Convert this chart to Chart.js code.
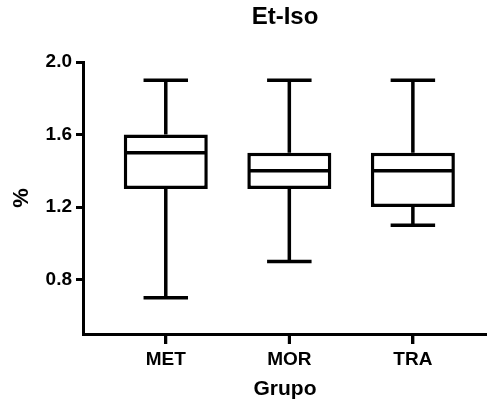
<!DOCTYPE html>
<html>
<head>
<meta charset="utf-8">
<script src="https://cdn.jsdelivr.net/npm/chart.js@4.4.1/dist/chart.umd.min.js"></script>
<style>
  html, body { margin: 0; padding: 0; background: #fff; }
  #wrap { width: 487px; height: 406px; }
</style>
</head>
<body>
<div id="wrap"><canvas id="boxChart"></canvas></div>
<script>
// Box plot values
const groups = ['MET', 'MOR', 'TRA'];
const whiskerMin = [0.7, 0.9, 1.1];
const q1 = [1.3, 1.3, 1.2];
const median = [1.5, 1.4, 1.4];
const q3 = [1.6, 1.5, 1.5];
const whiskerMax = [1.9, 1.9, 1.9];
const yTicks = [0.8, 1.2, 1.6, 2.0];

const FONT = "'Liberation Sans', Arial, Helvetica, sans-serif";
const LINE = 3.5;

// whiskers + median lines, drawn with the chart's own scales
const boxWhiskers = {
  id: 'boxWhiskers',
  afterDatasetsDraw(chart) {
    const { ctx, scales: { x, y } } = chart;
    const bars = chart.getDatasetMeta(0).data;
    ctx.save();
    ctx.strokeStyle = '#000';
    ctx.lineWidth = LINE;
    groups.forEach((g, i) => {
      const cx = x.getPixelForValue(i + 1);
      const capHalf = x.getPixelForValue(i + 1 + 0.18) - cx;
      const half = bars[i].width / 2;

      ctx.beginPath();
      // median
      ctx.moveTo(cx - half + 2, y.getPixelForValue(median[i]));
      ctx.lineTo(cx + half - 2, y.getPixelForValue(median[i]));
      // upper whisker
      ctx.moveTo(cx, y.getPixelForValue(q3[i]));
      ctx.lineTo(cx, y.getPixelForValue(whiskerMax[i]));
      ctx.moveTo(cx - capHalf, y.getPixelForValue(whiskerMax[i]));
      ctx.lineTo(cx + capHalf, y.getPixelForValue(whiskerMax[i]));
      // lower whisker
      ctx.moveTo(cx, y.getPixelForValue(q1[i]));
      ctx.lineTo(cx, y.getPixelForValue(whiskerMin[i]));
      ctx.moveTo(cx - capHalf, y.getPixelForValue(whiskerMin[i]));
      ctx.lineTo(cx + capHalf, y.getPixelForValue(whiskerMin[i]));
      ctx.stroke();
    });
    ctx.restore();
  },
  afterDraw(chart) {
    // make sure the category tick marks show under the x axis
    const { ctx, scales: { x } } = chart;
    ctx.save();
    ctx.strokeStyle = '#000';
    ctx.lineWidth = 3;
    ctx.beginPath();
    x.ticks.forEach(t => {
      const px = x.getPixelForValue(t.value);
      ctx.moveTo(px, x.top);
      ctx.lineTo(px, x.top + 10);
    });
    ctx.stroke();
    ctx.restore();
  }
};

document.addEventListener('DOMContentLoaded', function() {
  const ctx = document.getElementById('boxChart');

  new Chart(ctx, {
    type: 'bar',
    data: {
      datasets: [{
        data: groups.map((g, i) => ({ x: i + 1, y: [q1[i], q3[i]] })),
        backgroundColor: '#fff',
        borderColor: '#000',
        borderWidth: LINE,
        borderSkipped: false,
        barPercentage: 1,
        categoryPercentage: 0.68
      }]
    },
    options: {
      responsive: true,
      maintainAspectRatio: false,
      animation: false,
      plugins: {
        legend: { display: false },
        tooltip: { enabled: false },
        title: {
          display: true,
          text: 'Et-Iso',
          fullSize: false,
          color: '#000',
          font: { family: FONT, size: 24, weight: 'bold' },
          padding: { top: 3, bottom: 30.2 }
        }
      },
      scales: {
        x: {
          type: 'linear',
          offset: false,
          min: 0.33,
          max: 3.6,
          afterBuildTicks: scale => { scale.ticks = groups.map((g, i) => ({ value: i + 1 })); },
          afterFit: scale => { scale.height = 72; },
          ticks: {
            autoSkip: false,
            maxRotation: 0,
            padding: 4,
            color: '#000',
            font: { family: FONT, size: 19, weight: 'bold' },
            callback: v => groups[v - 1]
          },
          grid: { offset: false, drawOnChartArea: false, drawTicks: true, tickLength: 10, lineWidth: 3, color: '#000' },
          border: { display: true, width: 3, color: '#000' },
          title: {
            display: true,
            text: 'Grupo',
            color: '#000',
            font: { family: FONT, size: 21, weight: 'bold' },
            padding: { top: 0, bottom: 4 }
          }
        },
        y: {
          min: 0.5,
          max: 2.0,
          afterBuildTicks: scale => { scale.ticks = yTicks.map(v => ({ value: v })); },
          afterFit: scale => { scale.width = 83; },
          ticks: {
            padding: 4,
            color: '#000',
            font: { family: FONT, size: 19, weight: 'bold' },
            callback: v => v.toFixed(1)
          },
          grid: { drawOnChartArea: false, drawTicks: true, tickLength: 7, lineWidth: 3, color: '#000' },
          border: { display: true, width: 3, color: '#000' },
          title: {
            display: true,
            text: '%',
            color: '#000',
            font: { family: FONT, size: 22, weight: 'bold' },
            padding: { top: 9, bottom: 0 }
          }
        }
      }
    },
    plugins: [boxWhiskers]
  });
});
</script>
</body>
</html>
